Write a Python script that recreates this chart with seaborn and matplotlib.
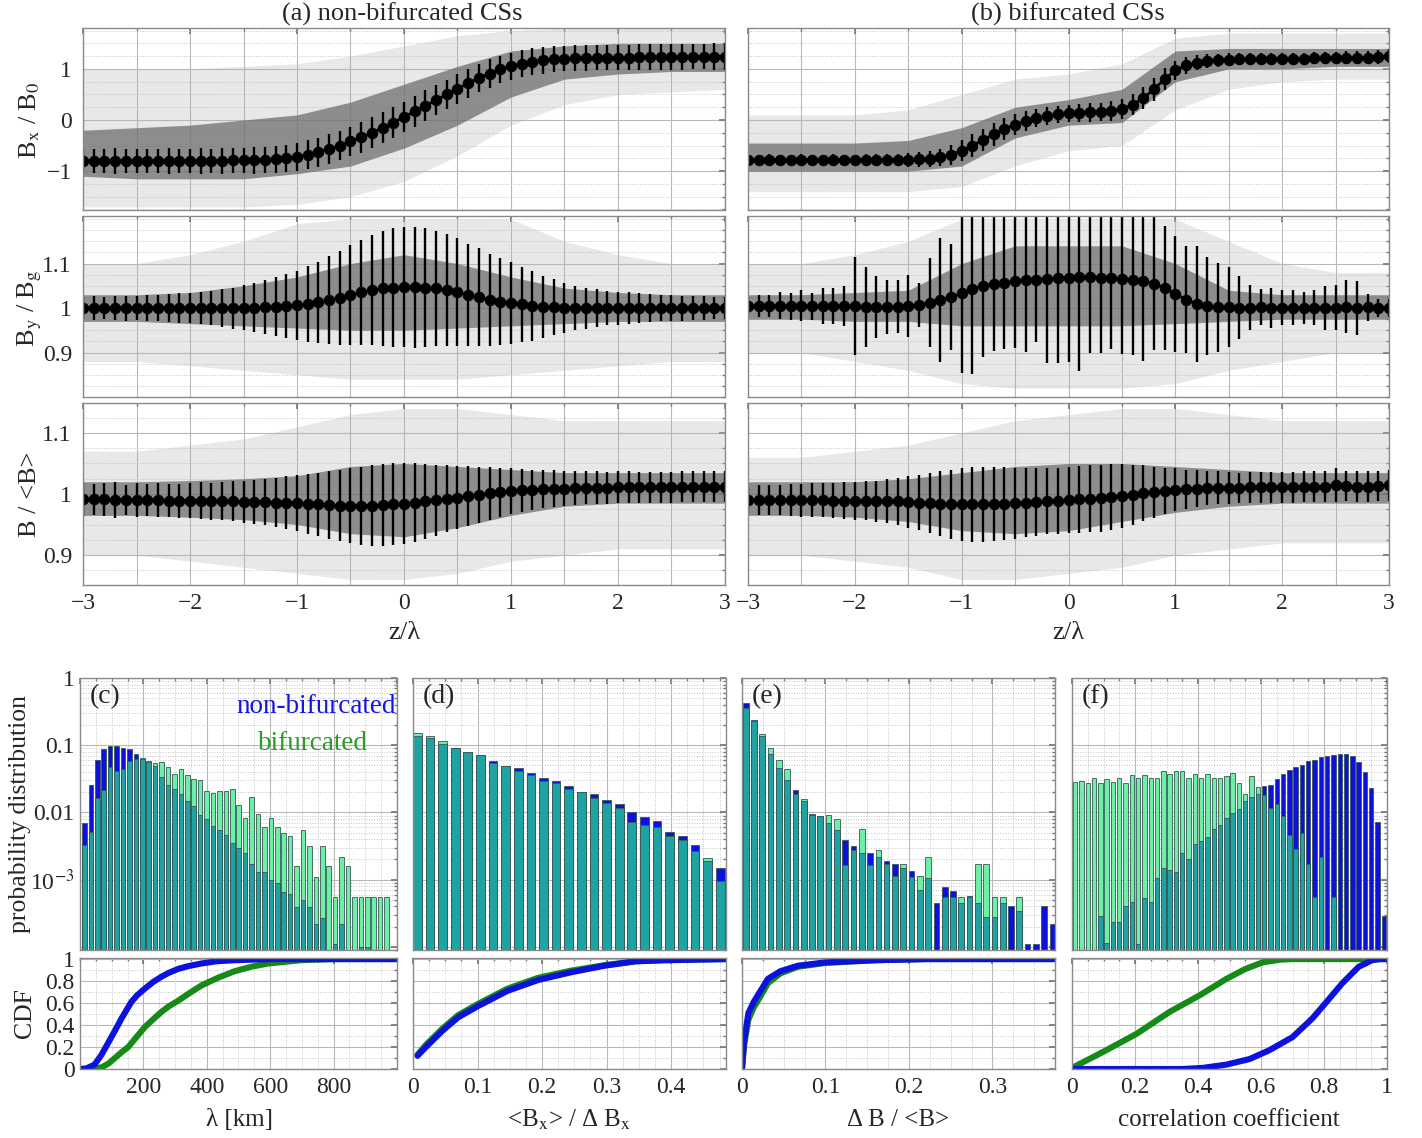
import numpy as np
import seaborn as sns
import matplotlib.pyplot as plt
from matplotlib.ticker import MultipleLocator, FixedLocator, FixedFormatter, NullFormatter, LogLocator

sns.set_theme(style='white')
plt.rcParams['font.family'] = ['Liberation Serif', 'DejaVu Serif']
plt.rcParams['mathtext.fontset'] = 'stix'

# ---------------- top: superposed-epoch profiles ----------------
z = np.linspace(-3, 3, 61)
env_z = [-3, -2.5, -2, -1.5, -1, -0.5, 0, 0.5, 1, 1.5, 2, 2.5, 3]

bx_a_mean = [-0.80, -0.80, -0.80, -0.80, -0.80, -0.80, -0.80, -0.80, -0.80, -0.80,
             -0.80, -0.80, -0.80, -0.80, -0.79, -0.79, -0.79, -0.78, -0.77, -0.75,
             -0.72, -0.68, -0.63, -0.57, -0.50, -0.42, -0.34, -0.25, -0.15, -0.05,
             0.06, 0.17, 0.28, 0.39, 0.50, 0.61, 0.72, 0.82, 0.91, 0.99,
             1.05, 1.10, 1.14, 1.17, 1.19, 1.20, 1.21, 1.21, 1.22, 1.22,
             1.22, 1.22, 1.23, 1.23, 1.23, 1.23, 1.23, 1.24, 1.24, 1.24,
             1.24]
bx_a_err = [0.24, 0.23, 0.24, 0.25, 0.24, 0.23, 0.24, 0.24, 0.25, 0.24,
            0.24, 0.25, 0.24, 0.25, 0.25, 0.25, 0.26, 0.26, 0.27, 0.27,
            0.28, 0.28, 0.28, 0.29, 0.29, 0.29, 0.30, 0.30, 0.30, 0.30,
            0.30, 0.30, 0.30, 0.29, 0.29, 0.29, 0.28, 0.28, 0.28, 0.27,
            0.27, 0.26, 0.26, 0.26, 0.25, 0.25, 0.25, 0.25, 0.25, 0.25,
            0.25, 0.25, 0.25, 0.25, 0.25, 0.25, 0.25, 0.25, 0.25, 0.26,
            0.26]
bx_a_in_lo = [-1.10, -1.15, -1.15, -1.15, -1.05, -0.90, -0.55, -0.10, 0.45, 0.80, 0.90, 0.95, 0.95]
bx_a_in_hi = [-0.20, -0.15, -0.10, 0.00, 0.10, 0.35, 0.70, 1.05, 1.35, 1.45, 1.50, 1.50, 1.50]
bx_a_out_lo = [-1.70, -1.70, -1.70, -1.70, -1.65, -1.50, -1.20, -0.70, -0.10, 0.30, 0.50, 0.55, 0.60]
bx_a_out_hi = [1.00, 1.00, 1.00, 1.05, 1.10, 1.25, 1.45, 1.65, 1.75, 1.80, 1.80, 1.80, 1.80]

bx_b_mean = [-0.78, -0.78, -0.78, -0.78, -0.78, -0.78, -0.78, -0.78, -0.78, -0.78,
             -0.78, -0.78, -0.78, -0.78, -0.78, -0.78, -0.77, -0.76, -0.73, -0.68,
             -0.60, -0.50, -0.39, -0.28, -0.18, -0.09, -0.02, 0.04, 0.08, 0.11,
             0.13, 0.14, 0.15, 0.16, 0.18, 0.22, 0.30, 0.43, 0.60, 0.80,
             0.97, 1.07, 1.12, 1.15, 1.17, 1.18, 1.19, 1.19, 1.19, 1.20,
             1.20, 1.20, 1.20, 1.21, 1.21, 1.21, 1.22, 1.22, 1.22, 1.23,
             1.25]
bx_b_err = [0.10, 0.10, 0.11, 0.10, 0.10, 0.11, 0.10, 0.10, 0.11, 0.10,
            0.10, 0.11, 0.11, 0.12, 0.12, 0.13, 0.14, 0.15, 0.17, 0.19,
            0.21, 0.22, 0.22, 0.22, 0.21, 0.20, 0.19, 0.18, 0.17, 0.17,
            0.17, 0.17, 0.18, 0.18, 0.19, 0.20, 0.21, 0.22, 0.22, 0.21,
            0.19, 0.17, 0.15, 0.14, 0.13, 0.13, 0.12, 0.12, 0.12, 0.12,
            0.12, 0.12, 0.12, 0.12, 0.12, 0.12, 0.13, 0.13, 0.13, 0.13,
            0.13]
bx_b_in_lo = [-1.00, -1.00, -1.00, -1.00, -0.90, -0.35, -0.10, -0.05, 0.75, 1.00, 1.00, 1.05, 1.05]
bx_b_in_hi = [-0.45, -0.45, -0.45, -0.40, -0.15, 0.25, 0.40, 0.60, 1.35, 1.40, 1.40, 1.40, 1.40]
bx_b_out_lo = [-1.40, -1.40, -1.40, -1.40, -1.30, -0.90, -0.60, -0.50, 0.20, 0.60, 0.75, 0.80, 0.80]
bx_b_out_hi = [0.10, 0.10, 0.10, 0.20, 0.50, 0.80, 0.90, 1.10, 1.60, 1.70, 1.70, 1.70, 1.70]

by_a_mean = [1.000, 1.000, 1.000, 1.000, 1.000, 1.000, 1.000, 1.000, 1.000, 1.000,
             1.000, 1.000, 1.000, 1.000, 1.000, 1.001, 1.001, 1.002, 1.003, 1.004,
             1.006, 1.009, 1.013, 1.018, 1.023, 1.029, 1.035, 1.040, 1.044, 1.046,
             1.047, 1.047, 1.046, 1.044, 1.041, 1.036, 1.030, 1.024, 1.018, 1.014,
             1.011, 1.008, 1.005, 1.003, 1.002, 1.001, 1.000, 1.000, 1.000, 1.000,
             1.000, 1.000, 1.000, 1.000, 1.000, 1.000, 1.000, 1.000, 1.000, 1.000,
             1.000]
by_a_err = [0.025, 0.026, 0.025, 0.027, 0.028, 0.027, 0.029, 0.030, 0.031, 0.033,
            0.034, 0.036, 0.039, 0.042, 0.046, 0.050, 0.055, 0.060, 0.066, 0.072,
            0.078, 0.085, 0.091, 0.098, 0.105, 0.112, 0.118, 0.124, 0.129, 0.133,
            0.135, 0.136, 0.133, 0.130, 0.126, 0.121, 0.115, 0.110, 0.104, 0.098,
            0.092, 0.085, 0.078, 0.070, 0.063, 0.056, 0.050, 0.046, 0.042, 0.039,
            0.037, 0.035, 0.033, 0.032, 0.030, 0.029, 0.028, 0.027, 0.026, 0.025,
            0.025]
by_a_in_lo = [0.970, 0.970, 0.965, 0.960, 0.955, 0.950, 0.950, 0.955, 0.960, 0.965, 0.970, 0.970, 0.970]
by_a_in_hi = [1.030, 1.030, 1.035, 1.050, 1.070, 1.100, 1.120, 1.100, 1.070, 1.045, 1.035, 1.030, 1.030]
by_a_out_lo = [0.880, 0.880, 0.870, 0.860, 0.850, 0.840, 0.840, 0.840, 0.850, 0.860, 0.870, 0.880, 0.880]
by_a_out_hi = [1.100, 1.100, 1.120, 1.150, 1.190, 1.200, 1.200, 1.200, 1.200, 1.150, 1.120, 1.100, 1.100]

by_b_mean = [1.005, 1.004, 1.005, 1.005, 1.004, 1.005, 1.004, 1.004, 1.005, 1.004,
             1.004, 1.003, 1.002, 1.002, 1.003, 1.004, 1.007, 1.012, 1.018, 1.025,
             1.033, 1.042, 1.050, 1.054, 1.057, 1.060, 1.062, 1.064, 1.066, 1.067,
             1.068, 1.069, 1.069, 1.068, 1.067, 1.066, 1.064, 1.061, 1.055, 1.045,
             1.032, 1.019, 1.009, 1.004, 1.002, 1.002, 1.001, 1.001, 1.002, 1.001,
             1.001, 1.001, 1.000, 1.001, 1.000, 1.001, 1.003, 1.000, 1.002, 1.001,
             1.000]
by_b_err = [0.020, 0.025, 0.025, 0.030, 0.030, 0.035, 0.030, 0.040, 0.040, 0.045,
            0.110, 0.090, 0.070, 0.060, 0.060, 0.070, 0.050, 0.100, 0.140, 0.120,
            0.180, 0.190, 0.160, 0.150, 0.150, 0.150, 0.160, 0.140, 0.190, 0.190,
            0.190, 0.210, 0.170, 0.170, 0.160, 0.170, 0.170, 0.180, 0.150, 0.140,
            0.130, 0.120, 0.130, 0.110, 0.100, 0.090, 0.070, 0.050, 0.040, 0.045,
            0.040, 0.040, 0.035, 0.040, 0.050, 0.050, 0.060, 0.060, 0.030, 0.020,
            0.020]
by_b_in_lo = [0.975, 0.975, 0.970, 0.970, 0.960, 0.960, 0.960, 0.960, 0.965, 0.970, 0.975, 0.975, 0.975]
by_b_in_hi = [1.030, 1.030, 1.035, 1.040, 1.100, 1.140, 1.140, 1.140, 1.100, 1.040, 1.030, 1.030, 1.030]
by_b_out_lo = [0.900, 0.900, 0.880, 0.860, 0.830, 0.820, 0.820, 0.820, 0.830, 0.860, 0.880, 0.900, 0.900]
by_b_out_hi = [1.100, 1.100, 1.120, 1.150, 1.200, 1.200, 1.200, 1.200, 1.200, 1.150, 1.100, 1.080, 1.080]

b_a_mean = [0.991, 0.991, 0.991, 0.990, 0.990, 0.990, 0.990, 0.990, 0.989, 0.989,
            0.989, 0.989, 0.988, 0.988, 0.988, 0.987, 0.987, 0.987, 0.986, 0.986,
            0.985, 0.984, 0.983, 0.982, 0.981, 0.981, 0.981, 0.981, 0.982, 0.983,
            0.984, 0.986, 0.988, 0.990, 0.992, 0.994, 0.997, 0.999, 1.001, 1.003,
            1.005, 1.006, 1.007, 1.008, 1.009, 1.009, 1.010, 1.010, 1.010, 1.010,
            1.011, 1.011, 1.011, 1.011, 1.011, 1.011, 1.012, 1.012, 1.012, 1.012,
            1.012]
b_a_err = [0.028, 0.026, 0.027, 0.030, 0.025, 0.028, 0.026, 0.028, 0.027, 0.028,
           0.029, 0.030, 0.030, 0.031, 0.033, 0.034, 0.036, 0.038, 0.040, 0.043,
           0.046, 0.049, 0.052, 0.055, 0.058, 0.061, 0.064, 0.066, 0.067, 0.067,
           0.066, 0.064, 0.061, 0.058, 0.055, 0.052, 0.049, 0.046, 0.043, 0.040,
           0.037, 0.035, 0.033, 0.031, 0.030, 0.029, 0.028, 0.027, 0.027, 0.026,
           0.026, 0.026, 0.025, 0.025, 0.025, 0.025, 0.025, 0.025, 0.025, 0.025,
           0.025]
b_a_in_lo = [0.965, 0.965, 0.962, 0.958, 0.950, 0.935, 0.930, 0.945, 0.965, 0.980, 0.985, 0.985, 0.985]
b_a_in_hi = [1.020, 1.020, 1.022, 1.025, 1.030, 1.045, 1.050, 1.045, 1.040, 1.035, 1.035, 1.035, 1.035]
b_a_out_lo = [0.900, 0.900, 0.890, 0.880, 0.870, 0.860, 0.860, 0.870, 0.890, 0.900, 0.910, 0.910, 0.910]
b_a_out_hi = [1.070, 1.070, 1.080, 1.090, 1.110, 1.130, 1.140, 1.140, 1.130, 1.120, 1.120, 1.120, 1.120]

b_b_mean = [0.990, 0.990, 0.990, 0.990, 0.990, 0.990, 0.990, 0.990, 0.989, 0.989,
            0.989, 0.989, 0.988, 0.988, 0.988, 0.987, 0.986, 0.985, 0.984, 0.983,
            0.983, 0.983, 0.983, 0.984, 0.984, 0.985, 0.986, 0.987, 0.988, 0.989,
            0.990, 0.991, 0.992, 0.993, 0.995, 0.997, 0.999, 1.001, 1.003, 1.005,
            1.007, 1.008, 1.009, 1.010, 1.010, 1.010, 1.010, 1.011, 1.011, 1.011,
            1.011, 1.011, 1.012, 1.012, 1.012, 1.015, 1.013, 1.012, 1.012, 1.013,
            1.014]
b_b_err = [0.022, 0.024, 0.025, 0.025, 0.026, 0.027, 0.028, 0.028, 0.029, 0.030,
           0.031, 0.032, 0.034, 0.036, 0.039, 0.042, 0.045, 0.049, 0.053, 0.057,
           0.060, 0.062, 0.062, 0.061, 0.060, 0.058, 0.056, 0.055, 0.054, 0.054,
           0.054, 0.055, 0.055, 0.055, 0.054, 0.052, 0.049, 0.046, 0.042, 0.038,
           0.035, 0.032, 0.030, 0.028, 0.027, 0.026, 0.025, 0.025, 0.025, 0.025,
           0.025, 0.025, 0.025, 0.025, 0.025, 0.028, 0.025, 0.025, 0.025, 0.025,
           0.025]
b_b_in_lo = [0.965, 0.965, 0.962, 0.955, 0.940, 0.935, 0.940, 0.955, 0.970, 0.980, 0.985, 0.985, 0.985]
b_b_in_hi = [1.020, 1.020, 1.020, 1.025, 1.035, 1.045, 1.050, 1.050, 1.045, 1.040, 1.035, 1.035, 1.035]
b_b_out_lo = [0.900, 0.900, 0.890, 0.880, 0.860, 0.860, 0.870, 0.880, 0.900, 0.910, 0.920, 0.920, 0.920]
b_b_out_hi = [1.060, 1.060, 1.070, 1.080, 1.100, 1.120, 1.130, 1.140, 1.140, 1.130, 1.120, 1.120, 1.120]

# ---------------- bottom: histograms (non-bifurcated = blue, bifurcated = green) ----------------
lam_centers = np.linspace(14, 967, 48)
lam_blue = [0.0069, 0.0257, 0.060, 0.089, 0.099, 0.097, 0.092, 0.087, 0.075, 0.063,
            0.057, 0.049, 0.034, 0.026, 0.022, 0.019, 0.015, 0.0126, 0.0093, 0.0080,
            0.0062, 0.0055, 0.0046, 0.0035, 0.0030, 0.0025, 0.0017, 0.0013, 0.0013, 0.0010,
            0.00089, 0.00066, 0.00061, 0.00039, 0.00049, 0.00039, 0.00022, 0.00027, 0, 0.00011,
            0.00022, 0, 0, 0.0001, 0.0001, 0, 0, 0]
lam_green = [0.0033, 0.0052, 0.0166, 0.0215, 0.048, 0.041, 0.044, 0.058, 0.062, 0.064,
             0.058, 0.054, 0.057, 0.048, 0.037, 0.044, 0.036, 0.031, 0.030, 0.021,
             0.0193, 0.0207, 0.0207, 0.0224, 0.0127, 0.0083, 0.0168, 0.0095, 0.0060, 0.0083,
             0.0060, 0.0050, 0.0045, 0.0016, 0.0055, 0.0032, 0.0011, 0.0032, 0.0016, 0.00055,
             0.0022, 0.0016, 0.00055, 0.00055, 0.00055, 0.00055, 0.00055, 0.00055]

ratio_centers = np.linspace(0.0067, 0.476, 25)
ratio_blue = [0.138, 0.126, 0.105, 0.091, 0.078, 0.072, 0.058, 0.049, 0.046, 0.039,
              0.033, 0.029, 0.025, 0.020, 0.0185, 0.0154, 0.0133, 0.0102, 0.0086, 0.0075,
              0.0052, 0.0045, 0.0033, 0.0019, 0.0015]
ratio_green = [0.151, 0.137, 0.114, 0.091, 0.078, 0.072, 0.054, 0.049, 0.042, 0.036,
               0.029, 0.027, 0.022, 0.020, 0.0165, 0.0136, 0.0117, 0.0071, 0.0064, 0.0060,
               0.0044, 0.0039, 0.0027, 0.0021, 0.00095]

db_centers = np.linspace(0.0044, 0.372, 38)
db_blue = [0.42, 0.24, 0.138, 0.073, 0.046, 0.030, 0.0218, 0.0147, 0.0095, 0.0089,
           0.0070, 0.0054, 0.0039, 0.0032, 0.0025, 0.0025, 0.0022, 0.0019, 0.00174, 0.0015,
           0.00134, 0.00069, 0.00107, 0.00045, 0.00079, 0.00068, 0.00045, 0.00057, 0.00045, 0.00028,
           0.00028, 0.00045, 0.00040, 0.00034, 0.00011, 0.00011, 0.00040, 0.00022]
db_green = [0.36, 0.23, 0.147, 0.091, 0.060, 0.044, 0.019, 0.0159, 0.0092, 0.0089,
            0.0093, 0.0081, 0.00168, 0.0028, 0.0057, 0.00168, 0.0028, 0.0017, 0.00112, 0.0017,
            0.0011, 0.00112, 0.0022, 0, 0.00055, 0.00055, 0.00055, 0.00055, 0.0017, 0.0017,
            0.00055, 0.00055, 0, 0.00055, 0, 0, 0, 0]

cc_centers = np.linspace(0.01, 0.99, 50)
cc_blue = [0, 0, 0, 0, 0.00029, 0.000113, 0.00023, 0.00023, 0.00041, 0.00046,
           0.00011, 0.00053, 0.00046, 0.00107, 0.00148, 0.00137, 0.0013, 0.0025, 0.0020, 0.0034,
           0.0038, 0.0043, 0.0056, 0.0066, 0.0083, 0.0099, 0.0113, 0.0147, 0.017, 0.019,
           0.025, 0.026, 0.031, 0.037, 0.043, 0.047, 0.050, 0.059, 0.061, 0.066,
           0.070, 0.072, 0.075, 0.075, 0.068, 0.056, 0.040, 0.023, 0.0072, 0.00029]
cc_green = [0.028, 0.029, 0.0275, 0.033, 0.0275, 0.031, 0.028, 0.033, 0.027, 0.036,
            0.032, 0.036, 0.032, 0.032, 0.041, 0.037, 0.041, 0.041, 0.032, 0.037,
            0.032, 0.037, 0.032, 0.032, 0.035, 0.039, 0.027, 0.019, 0.035, 0.024,
            0.018, 0.0117, 0.0135, 0.0088, 0.0047, 0.0029, 0.0050, 0.0017, 0.00056, 0.0022,
            0, 0.00056, 0, 0, 0, 0, 0, 0, 0, 0]

# ---------------- CDFs ----------------
lam_cdf_blue_x = [0, 20, 46, 68, 99, 120, 131, 162, 180, 204, 230, 257, 280, 309, 340, 383, 430, 488, 600, 1000]
lam_cdf_blue_y = [0, 0.005, 0.04, 0.13, 0.29, 0.40, 0.46, 0.61, 0.67, 0.73, 0.79, 0.84, 0.875, 0.91, 0.935, 0.96, 0.98, 0.99, 1.0, 1.0]
lam_cdf_green_x = [36, 68, 90, 110, 130, 152, 178, 204, 230, 257, 280, 309, 345, 383, 435, 488, 540, 593, 698, 803, 1000]
lam_cdf_green_y = [0, 0.015, 0.05, 0.10, 0.15, 0.20, 0.29, 0.38, 0.45, 0.52, 0.57, 0.62, 0.69, 0.76, 0.83, 0.89, 0.93, 0.96, 0.99, 1.0, 1.0]

ratio_cdf_x = [0.007, 0.02, 0.046, 0.07, 0.1, 0.146, 0.194, 0.245, 0.297, 0.345, 0.396, 0.485]
ratio_cdf_blue = [0.12, 0.20, 0.35, 0.47, 0.57, 0.71, 0.81, 0.88, 0.94, 0.98, 0.99, 1.0]
ratio_cdf_green = [0.13, 0.22, 0.37, 0.49, 0.59, 0.73, 0.83, 0.895, 0.945, 0.98, 0.995, 1.0]

db_cdf_x = [0, 0.0026, 0.0077, 0.0140, 0.0205, 0.031, 0.046, 0.067, 0.1, 0.16, 0.22, 0.375]
db_cdf_blue = [0, 0.26, 0.51, 0.61, 0.69, 0.82, 0.89, 0.94, 0.97, 0.99, 1.0, 1.0]
db_cdf_green = [0, 0.22, 0.45, 0.56, 0.64, 0.78, 0.87, 0.93, 0.965, 0.99, 1.0, 1.0]

cc_cdf_green_x = [0, 0.095, 0.205, 0.31, 0.405, 0.49, 0.55, 0.605, 0.66, 0.7, 1.0]
cc_cdf_green_y = [0.01, 0.15, 0.32, 0.52, 0.67, 0.82, 0.91, 0.97, 0.995, 1.0, 1.0]
cc_cdf_blue_x = [0, 0.35, 0.415, 0.49, 0.563, 0.626, 0.7, 0.763, 0.805, 0.858, 0.91, 0.953, 0.98, 1.0]
cc_cdf_blue_y = [0, 0.0, 0.01, 0.04, 0.09, 0.17, 0.29, 0.46, 0.60, 0.78, 0.93, 0.99, 1.0, 1.0]

BLUE = '#0c12dc'
GREEN_BAR = '#6cf0a6'
TEAL = '#1fa2a2'
GREEN_LINE = '#168a16'
EDGE = '#8a8a8a'

W, H = 1422, 1138
fig = plt.figure(figsize=(W / 100, H / 100), dpi=100)


def box(x0, y0, x1, y1):
    return fig.add_axes([x0 / W, 1 - y1 / H, (x1 - x0) / W, (y1 - y0) / H])


def frame(ax):
    for s in ax.spines.values():
        s.set_color(EDGE)
        s.set_linewidth(1.0)
    ax.tick_params(which='both', direction='in', top=True, right=True, color='#777777',
                   labelsize=17, pad=6)
    ax.tick_params(which='major', length=4)
    ax.tick_params(which='minor', length=2)
    ax.grid(True, which='major', color='#b8b8b8', lw=0.8, ls='-')
    ax.grid(True, which='minor', color='#c4c4c4', lw=0.7, ls=':')
    ax.set_axisbelow(True)


def profile(ax, mean, err, in_lo, in_hi, out_lo, out_hi, ylim, yticks, ylabels, ymin, show_y, show_x):
    ax.fill_between(env_z, out_lo, out_hi, color='#b4b4b4', alpha=0.3, lw=0)
    ax.fill_between(env_z, in_lo, in_hi, color='#6a6a6a', alpha=0.72, lw=0)
    ax.errorbar(z, mean, yerr=err, fmt='none', ecolor='black', elinewidth=1.7, capsize=0)
    sns.lineplot(x=z, y=mean, ax=ax, color='black', lw=2, marker='o', markersize=7.5,
                 markeredgecolor='black', markerfacecolor='black')
    ax.set_xlim(-3, 3)
    ax.set_ylim(*ylim)
    ax.xaxis.set_major_locator(MultipleLocator(1))
    ax.xaxis.set_minor_locator(MultipleLocator(0.5))
    ax.yaxis.set_major_locator(FixedLocator(yticks))
    ax.yaxis.set_minor_locator(MultipleLocator(ymin))
    frame(ax)
    ax.grid(True, which='minor', axis='x', color='#b8b8b8', lw=0.8, ls='-')
    ax.tick_params(axis='y', pad=8)
    if show_y:
        ax.yaxis.set_major_formatter(FixedFormatter(ylabels))
    else:
        ax.yaxis.set_major_formatter(NullFormatter())
    if not show_x:
        ax.xaxis.set_major_formatter(NullFormatter())
    ax.set_xlabel('')
    ax.set_ylabel('')


rows = [(28, 210), (216, 397), (403, 585)]
cols = [(83, 725), (748, 1389)]
panels = [
    [(bx_a_mean, bx_a_err, bx_a_in_lo, bx_a_in_hi, bx_a_out_lo, bx_a_out_hi),
     (bx_b_mean, bx_b_err, bx_b_in_lo, bx_b_in_hi, bx_b_out_lo, bx_b_out_hi)],
    [(by_a_mean, by_a_err, by_a_in_lo, by_a_in_hi, by_a_out_lo, by_a_out_hi),
     (by_b_mean, by_b_err, by_b_in_lo, by_b_in_hi, by_b_out_lo, by_b_out_hi)],
    [(b_a_mean, b_a_err, b_a_in_lo, b_a_in_hi, b_a_out_lo, b_a_out_hi),
     (b_b_mean, b_b_err, b_b_in_lo, b_b_in_hi, b_b_out_lo, b_b_out_hi)],
]
row_cfg = [((-1.76, 1.8), [-1, 0, 1], ['−1', '0', '1'], 0.25),
           ((0.8, 1.207), [0.9, 1.0, 1.1], ['0.9', '1', '1.1'], 0.025),
           ((0.851, 1.149), [0.9, 1.0, 1.1], ['0.9', '1', '1.1'], 0.025)]
for r, (y0, y1) in enumerate(rows):
    for c, (x0, x1) in enumerate(cols):
        ax = box(x0, y0, x1, y1)
        ylim, yt, yl, ym = row_cfg[r]
        profile(ax, *panels[r][c], ylim, yt, yl, ym, show_y=(c == 0), show_x=(r == 2))

fig.text(402 / W, 1 - 14 / H, '(a) non-bifurcated CSs', ha='center', va='center', fontsize=19)
fig.text(1068 / W, 1 - 14 / H, '(b) bifurcated CSs', ha='center', va='center', fontsize=19)
fig.text(404 / W, 1 - 633 / H, 'z/λ', ha='center', va='center', fontsize=19)
fig.text(1068 / W, 1 - 633 / H, 'z/λ', ha='center', va='center', fontsize=19)
fig.text(30 / W, 1 - 120 / H, r'B$_\mathrm{x}$ / B$_0$', rotation=90, ha='center', va='center', fontsize=19)
fig.text(30 / W, 1 - 308 / H, r'B$_\mathrm{y}$ / B$_\mathrm{g}$', rotation=90, ha='center', va='center', fontsize=19)
fig.text(30 / W, 1 - 494 / H, 'B / <B>', rotation=90, ha='center', va='center', fontsize=19)


# ---------------- bottom row ----------------
def hist(ax, centers, width, blue, green, xlim, xmaj, xmin):
    blue = np.asarray(blue, float)
    green = np.asarray(green, float)
    both = np.minimum(blue, green)
    ax.set_yscale('log')
    for h, col in [(blue, BLUE), (green, GREEN_BAR), (both, TEAL)]:
        m = h > 0
        ax.bar(centers[m], h[m], width, bottom=1e-6, color=col, edgecolor='#3c5656', lw=0.6)
    ax.set_xlim(*xlim)
    ax.set_ylim(9e-5, 1)
    ax.xaxis.set_major_locator(MultipleLocator(xmaj))
    ax.xaxis.set_minor_locator(MultipleLocator(xmin))
    ax.yaxis.set_major_locator(FixedLocator([1e-4, 1e-3, 1e-2, 1e-1, 1]))
    ax.yaxis.set_minor_locator(LogLocator(base=10, subs=np.arange(2, 10)))
    frame(ax)
    ax.xaxis.set_major_formatter(NullFormatter())
    ax.yaxis.set_major_formatter(NullFormatter())
    ax.yaxis.set_minor_formatter(NullFormatter())


def cdf(ax, bx, by, gx, gy, xlim, xmaj, xmin, xticks, xlabels):
    sns.lineplot(x=gx, y=gy, ax=ax, color=GREEN_LINE, lw=4.4)
    sns.lineplot(x=bx, y=by, ax=ax, color=BLUE, lw=4.4)
    ax.set_xlim(*xlim)
    ax.set_ylim(0, 1.01)
    ax.xaxis.set_major_locator(MultipleLocator(xmaj))
    ax.xaxis.set_minor_locator(MultipleLocator(xmin))
    ax.yaxis.set_major_locator(MultipleLocator(0.2))
    ax.yaxis.set_minor_locator(MultipleLocator(0.1))
    frame(ax)
    ax.xaxis.set_major_locator(FixedLocator(xticks))
    ax.xaxis.set_major_formatter(FixedFormatter(xlabels))
    ax.yaxis.set_major_formatter(NullFormatter())
    ax.set_xlabel('')
    ax.set_ylabel('')


bcols = [(80, 397), (413, 726), (742, 1055), (1072, 1387)]
hist_axes = [box(x0, 678, x1, 950) for x0, x1 in bcols]
cdf_axes = [box(x0, 958, x1, 1069) for x0, x1 in bcols]

hist(hist_axes[0], lam_centers, 14.5, lam_blue, lam_green, (0, 1000), 200, 50)
hist(hist_axes[1], ratio_centers, 0.0135, ratio_blue, ratio_green, (0, 0.485), 0.1, 0.025)
hist(hist_axes[2], db_centers, 0.0068, db_blue, db_green, (0, 0.375), 0.1, 0.025)
hist(hist_axes[3], cc_centers, 0.0138, cc_blue, cc_green, (0, 1), 0.2, 0.05)

hx = hist_axes[0]
hx.yaxis.set_major_formatter(FixedFormatter(['', '10$^{-3}$', '0.01', '0.1', '1']))
hx.tick_params(axis='y', pad=4)

cdf(cdf_axes[0], lam_cdf_blue_x, lam_cdf_blue_y, lam_cdf_green_x, lam_cdf_green_y,
    (0, 1000), 200, 50, [200, 400, 600, 800], ['200', '400', '600', '800'])
cdf(cdf_axes[1], ratio_cdf_x, ratio_cdf_blue, ratio_cdf_x, ratio_cdf_green,
    (0, 0.485), 0.1, 0.025, [0, 0.1, 0.2, 0.3, 0.4], ['0', '0.1', '0.2', '0.3', '0.4'])
cdf(cdf_axes[2], db_cdf_x, db_cdf_blue, db_cdf_x, db_cdf_green,
    (0, 0.375), 0.1, 0.025, [0, 0.1, 0.2, 0.3], ['0', '0.1', '0.2', '0.3'])
cdf(cdf_axes[3], cc_cdf_blue_x, cc_cdf_blue_y, cc_cdf_green_x, cc_cdf_green_y,
    (0, 1), 0.2, 0.05, [0, 0.2, 0.4, 0.6, 0.8, 1], ['0', '0.2', '0.4', '0.6', '0.8', '1'])
cdf_axes[0].yaxis.set_major_locator(FixedLocator([0, 0.2, 0.4, 0.6, 0.8, 1]))
cdf_axes[0].yaxis.set_major_formatter(FixedFormatter(['0', '0.2', '0.4', '0.6', '0.8', '1']))
cdf_axes[0].tick_params(axis='y', pad=4)

for ax, lab in zip(hist_axes, ['(c)', '(d)', '(e)', '(f)']):
    ax.text(0.03, 0.93, lab, transform=ax.transAxes, ha='left', va='center', fontsize=20)
hist_axes[0].text(0.995, 0.897, 'non-bifurcated', color='#1414e6', transform=hist_axes[0].transAxes,
                  ha='right', va='center', fontsize=19.5)
hist_axes[0].text(0.735, 0.761, 'bifurcated', color='#2a9a2a', transform=hist_axes[0].transAxes,
                  ha='center', va='center', fontsize=19.5)

fig.text(20 / W, 1 - 814 / H, 'probability distribution', rotation=90, ha='center', va='center', fontsize=18.5)
fig.text(25 / W, 1 - 1013 / H, 'CDF', rotation=90, ha='center', va='center', fontsize=18.5)
for xc, lab in zip([239, 569, 898, 1229],
                   ['λ [km]', r'<B$_\mathrm{x}$> / Δ B$_\mathrm{x}$', 'Δ B / <B>', 'correlation coefficient']):
    fig.text(xc / W, 1 - 1120 / H, lab, ha='center', va='center', fontsize=18)

fig.savefig('out.png', dpi=100)
